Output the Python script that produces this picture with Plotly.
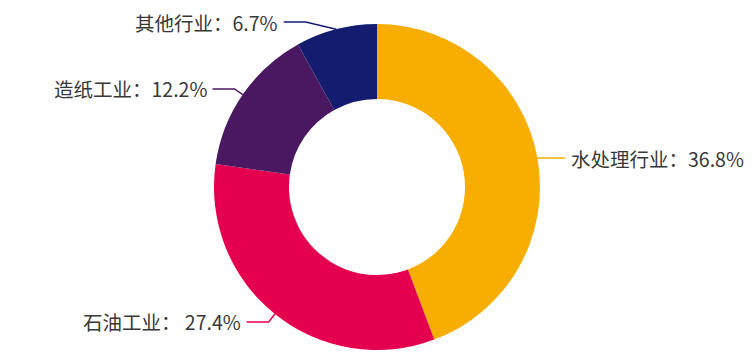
import math
import plotly.graph_objects as go

# ---- data ----
categories = ["水处理行业", "石油工业", "造纸工业", "其他行业"]
values = [36.8, 27.4, 12.2, 6.7]
label_texts = ["水处理行业：36.8%", "石油工业： 27.4%", "造纸工业：12.2%", "其他行业：6.7%"]
colors = ["#F8AE00", "#E4004F", "#4A1860", "#131C6E"]

# ---- layout geometry (window pixels) ----
OFF = 8                    # page body margin of the browser
W, H = 752 - OFF, 357 - OFF  # figure size that exactly fills the visible window
CX, CY, R = 377, 187, 163
HOLE = 0.54
ELBOW = 10
HSEG = 22
GAP = 4
label_shift = [-4, 0, 0, -28]  # horizontal nudges of elbows (label layout)
label_vshift = [2, 0, 0, 2.5]  # vertical nudges of elbows (label layout)


def px(x):
    return (x - OFF) / W


def py(y):
    return 1 - (y - OFF) / H


fig = go.Figure()
fig.add_trace(go.Pie(
    labels=categories,
    values=values,
    hole=HOLE,
    sort=False,
    direction="clockwise",
    rotation=0,
    marker=dict(colors=colors, line=dict(width=0)),
    textinfo="none",
    hoverinfo="label+value",
    showlegend=False,
    domain=dict(x=[px(CX - R), px(CX + R)], y=[py(CY + R), py(CY - R)]),
))

total = sum(values)
cum = 0.0
shapes = []
annotations = []
for cat, v, txt, col, shift, vshift in zip(categories, values, label_texts, colors,
                                           label_shift, label_vshift):
    mid = (cum + v / 2) / total * 2 * math.pi
    cum += v
    sx = CX + R * math.sin(mid)
    sy = CY - R * math.cos(mid)
    ex = CX + (R + ELBOW) * math.sin(mid) + shift
    ey = CY - (R + ELBOW) * math.cos(mid) + vshift
    side = 1 if math.sin(mid) >= 0 else -1
    hx = ex + side * HSEG
    path = f"M {px(sx)},{py(sy)} L {px(ex)},{py(ey)} L {px(hx)},{py(ey)}"
    shapes.append(dict(type="path", xref="paper", yref="paper", path=path,
                       line=dict(color=col, width=1.5)))
    annotations.append(dict(
        x=px(hx + side * GAP), y=py(ey), xref="paper", yref="paper",
        text=txt, showarrow=False,
        xanchor="left" if side > 0 else "right", yanchor="middle",
        font=dict(family="Noto Sans CJK SC", size=19.5, color="#383838"),
    ))

fig.update_layout(
    width=W, height=H,
    margin=dict(l=0, r=0, t=0, b=0),
    paper_bgcolor="white", plot_bgcolor="white",
    shapes=shapes, annotations=annotations,
)

fig.write_html("out.html")
